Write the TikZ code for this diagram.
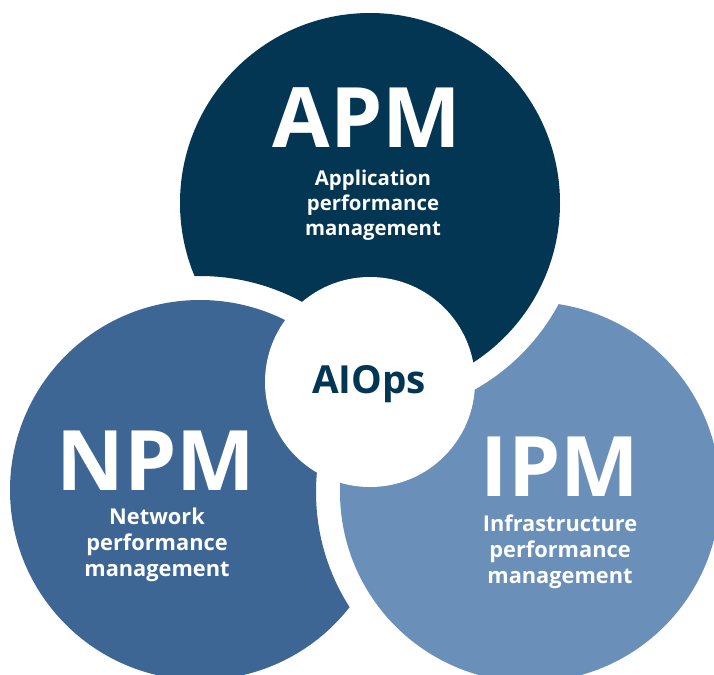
\documentclass[tikz,border=0pt]{standalone}
\usepackage{fontspec}
\setmainfont{Open Sans}
\usepackage{xcolor}
\usepackage{tikz}
\usetikzlibrary{positioning}

\definecolor{apmblue}{RGB}{2,54,82}
\definecolor{npmblue}{RGB}{61,102,148}
\definecolor{ipmblue}{RGB}{106,143,184}

\begin{document}
\begin{tikzpicture}[x=0.02cm, y=-0.02cm,
    bigname/.style={text=white, anchor=base, inner sep=0pt, font=\fontsize{47.5}{47.5}\selectfont\bfseries},
    longname/.style={text=white, align=center, inner sep=0pt, font=\fontsize{11.6}{14.4}\selectfont\bfseries},
    lowname/.style={longname, font=\fontsize{12.4}{14.8}\selectfont\bfseries}]
    \useasboundingbox (0,0) rectangle (714,674);
    \clip (0,0) rectangle (714,674);

    \coordinate (apm) at (370,203);
    \coordinate (npm) at (200,490);
    \coordinate (ipm) at (530,492);
    \coordinate (core) at (370,382);

    % each disc is cut by a ring round the disc lying on it
    \begin{scope}
        \clip (apm) circle (190);
        \fill [apmblue, even odd rule] (apm) circle (200) (npm) circle (214);
    \end{scope}
    \begin{scope}
        \clip (npm) circle (190);
        \fill [npmblue, even odd rule] (npm) circle (200) (ipm) circle (214);
    \end{scope}
    \begin{scope}
        \clip (ipm) circle (190);
        \fill [ipmblue, even odd rule] (ipm) circle (200) (apm) circle (214);
    \end{scope}
    \fill [white] (core) circle (105);

    \node [bigname] (apmtitle) at (367,147) {APM};
    \node [longname] (apmtext) at (373,205) {Application\\performance\\management};

    \node [anchor=base, text=apmblue, inner sep=0pt, font=\fontsize{22}{22}\selectfont\bfseries] (aiops) at (369,393) {AIOps};

    \node [bigname] (npmtitle) at (156,490) {NPM};
    \node [lowname] (npmtext) at (157,545) {Network\\performance\\management};

    \node [bigname] (ipmtitle) at (560,496) {IPM};
    \node [lowname] (ipmtext) at (560,552) {Infrastructure\\performance\\management};
\end{tikzpicture}
\end{document}
